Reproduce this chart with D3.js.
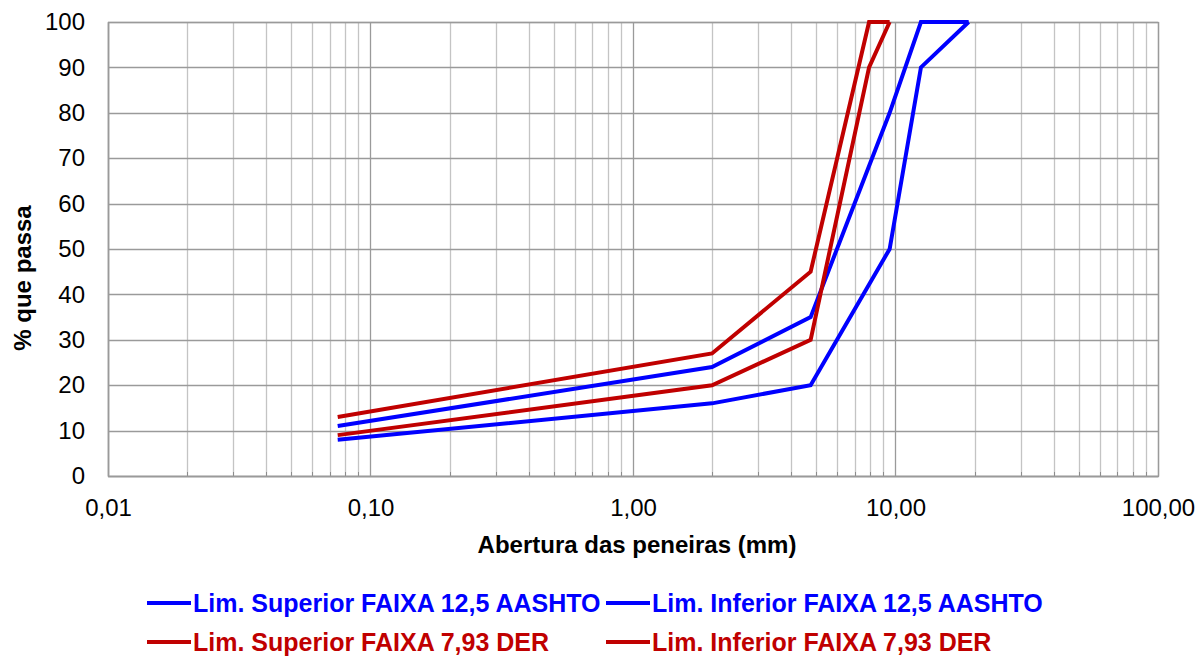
<!DOCTYPE html>
<html>
<head>
<meta charset="utf-8">
<script src="https://cdn.jsdelivr.net/npm/d3@7"></script>
<style>
  html, body { margin: 0; padding: 0; background: #fff; }
  svg { display: block; font-family: "Liberation Sans", Arial, sans-serif; }
</style>
</head>
<body>
<svg id="chart" width="1200" height="657"></svg>
<script>
// Sieve openings (mm) and percent passing for each grading limit
const sievesAashto = [0.075, 2.0, 4.75, 9.5, 12.5, 19.0];
const supAashto    = [11, 24, 35, 80, 100, 100];
const infAashto    = [8, 16, 20, 50, 90, 100];

const sievesDer = [0.075, 2.0, 4.75, 7.93, 9.5];
const supDer    = [13, 27, 45, 100, 100];
const infDer    = [9, 20, 30, 90, 100];

const xTickValues = [0.01, 0.1, 1, 10, 100];
const xTickLabels = ["0,01", "0,10", "1,00", "10,00", "100,00"];
const yTickValues = [0, 10, 20, 30, 40, 50, 60, 70, 80, 90, 100];

const seriesNames = [
  "Lim. Superior FAIXA 12,5 AASHTO",
  "Lim. Inferior FAIXA 12,5 AASHTO",
  "Lim. Superior FAIXA 7,93 DER",
  "Lim. Inferior FAIXA 7,93 DER"
];

const BLUE = "#0000FF", RED = "#C00000";

const series = [
  { name: seriesNames[0], x: sievesAashto, y: supAashto, color: BLUE },
  { name: seriesNames[1], x: sievesAashto, y: infAashto, color: BLUE },
  { name: seriesNames[2], x: sievesDer, y: supDer, color: RED },
  { name: seriesNames[3], x: sievesDer, y: infDer, color: RED }
];

const svg = d3.select("#chart");
const plot = { left: 108, top: 22, right: 1158, bottom: 476 };

const x = d3.scaleLog().domain([0.01, 100]).range([plot.left, plot.right]);
const y = d3.scaleLinear().domain([0, 100]).range([plot.bottom, plot.top]);

// Minor vertical gridlines (2..9 in each decade)
const minor = [];
for (let e = -2; e < 2; e++) {
  for (let m = 2; m <= 9; m++) minor.push(m * Math.pow(10, e));
}
const g = svg.append("g");
g.selectAll("line.minor").data(minor).join("line")
  .attr("x1", d => Math.round(x(d)) + 0.5).attr("x2", d => Math.round(x(d)) + 0.5)
  .attr("y1", plot.top).attr("y2", plot.bottom)
  .attr("stroke", "#c4c4c4").attr("stroke-width", 1.3);

// Horizontal gridlines
g.selectAll("line.h").data(yTickValues).join("line")
  .attr("x1", plot.left).attr("x2", plot.right)
  .attr("y1", d => Math.round(y(d)) + 0.5).attr("y2", d => Math.round(y(d)) + 0.5)
  .attr("stroke", "#9a9a9a").attr("stroke-width", 1.3);

// Major (decade) vertical gridlines
g.selectAll("line.major").data(xTickValues).join("line")
  .attr("x1", d => Math.round(x(d)) + 0.5).attr("x2", d => Math.round(x(d)) + 0.5)
  .attr("y1", plot.top).attr("y2", plot.bottom)
  .attr("stroke", "#9a9a9a").attr("stroke-width", 1.3);

// Small tick marks at the foot of the minor lines
g.selectAll("line.mt").data(minor).join("line")
  .attr("x1", d => Math.round(x(d)) + 0.5).attr("x2", d => Math.round(x(d)) + 0.5)
  .attr("y1", plot.bottom - 4).attr("y2", plot.bottom)
  .attr("stroke", "#8c8c8c").attr("stroke-width", 1);

// Axes via d3-axis, with domain lines drawn in gray
const xAxis = svg.append("g")
  .attr("transform", `translate(0,${plot.bottom})`)
  .call(d3.axisBottom(x).tickValues(xTickValues)
    .tickFormat((d, i) => xTickLabels[i]).tickSize(0).tickPadding(23));
xAxis.select(".domain").attr("stroke", "#9a9a9a").attr("stroke-width", 1.5);
xAxis.selectAll("text").attr("font-size", 24).attr("fill", "#000")
  .attr("font-family", "Liberation Sans, Arial, sans-serif");

const yAxis = svg.append("g")
  .attr("transform", `translate(${plot.left},0)`)
  .call(d3.axisLeft(y).tickValues(yTickValues).tickSize(0).tickPadding(23));
yAxis.select(".domain").attr("stroke", "#9a9a9a").attr("stroke-width", 1.5);
yAxis.selectAll("text").attr("font-size", 24).attr("fill", "#000")
  .attr("font-family", "Liberation Sans, Arial, sans-serif");

// Right and top border of plot area
svg.append("rect")
  .attr("x", plot.left + 0.5).attr("y", plot.top + 0.5)
  .attr("width", plot.right - plot.left).attr("height", plot.bottom - plot.top)
  .attr("fill", "none").attr("stroke", "#9a9a9a").attr("stroke-width", 1.3);

// Grading curves
const line = d3.line().x(d => x(d[0])).y(d => y(d[1]));
svg.append("g").selectAll("path").data(series).join("path")
  .attr("d", s => line(s.x.map((v, i) => [v, s.y[i]])))
  .attr("fill", "none").attr("stroke", s => s.color)
  .attr("stroke-width", 4).attr("stroke-linejoin", "miter");

// Axis titles
svg.append("text")
  .attr("x", 637).attr("y", 553).attr("text-anchor", "middle")
  .attr("font-size", 24).attr("font-weight", "bold")
  .text("Abertura das peneiras (mm)");
svg.append("text")
  .attr("transform", "translate(31,278) rotate(-90)")
  .attr("text-anchor", "middle")
  .attr("font-size", 24).attr("font-weight", "bold")
  .text("% que passa");

// Legend (two columns, two rows)
const legendPos = [
  { lx: 147, ty: 603 }, { lx: 606, ty: 603 },
  { lx: 147, ty: 642 }, { lx: 606, ty: 642 }
];
const leg = svg.append("g").selectAll("g").data(series).join("g")
  .attr("transform", (d, i) => `translate(${legendPos[i].lx},${legendPos[i].ty})`);
leg.append("line")
  .attr("x1", 0).attr("x2", 44).attr("y1", 0).attr("y2", 0)
  .attr("stroke", d => d.color).attr("stroke-width", 4);
leg.append("text")
  .attr("x", 46).attr("y", 9)
  .attr("font-size", 25).attr("font-weight", "bold")
  .attr("fill", d => d.color)
  .text(d => d.name);
</script>
</body>
</html>
